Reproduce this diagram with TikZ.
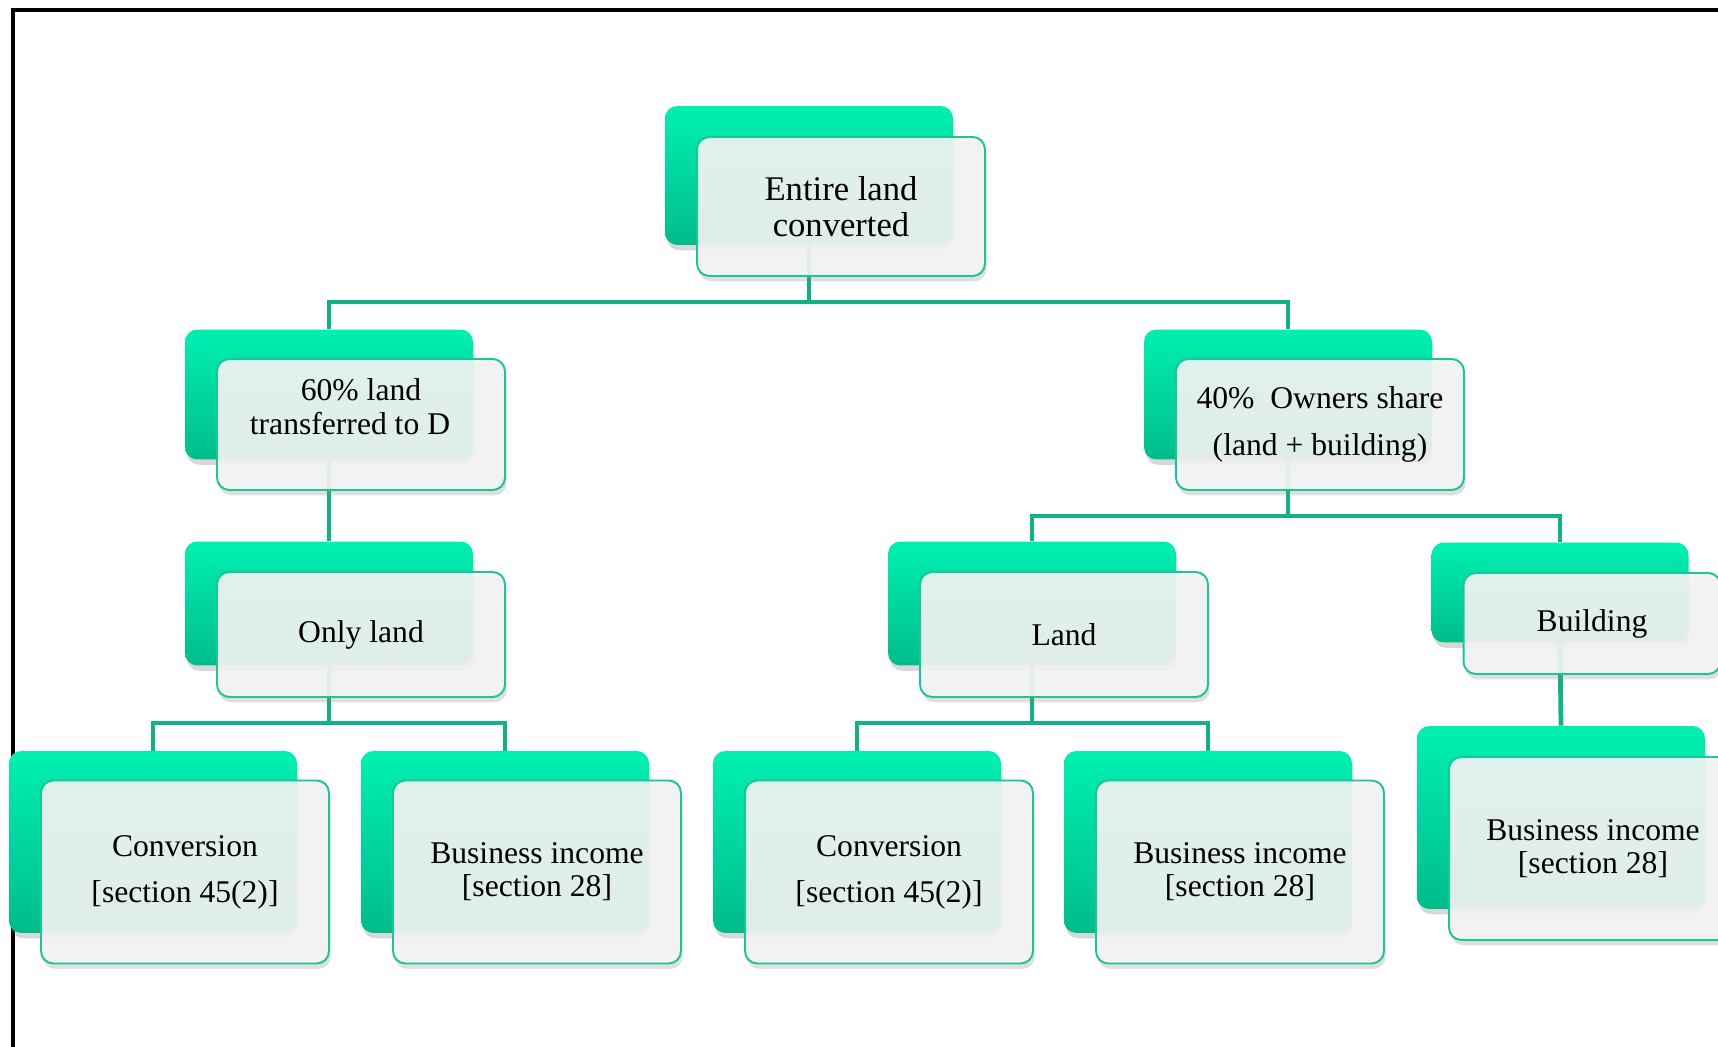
\documentclass[tikz,border=0pt]{standalone}
\usepackage{fontspec}
\setmainfont{Liberation Serif}
\usetikzlibrary{shadows}

\definecolor{mintTop}{RGB}{0,240,178}
\definecolor{mintBot}{RGB}{0,188,138}
\definecolor{mintLine}{RGB}{18,178,134}
\definecolor{mintEdge}{RGB}{28,196,150}
\definecolor{paneFill}{RGB}{245,245,245}

\begin{document}
\begin{tikzpicture}[x=0.02cm,y=-0.02cm,
  back/.style={rounded corners=7pt,top color=mintTop,bottom color=mintBot,draw=none,
    minimum width=5.76cm,drop shadow={shadow xshift=1pt,shadow yshift=-3pt,opacity=0.3}},
  pane/.style={rounded corners=7pt,draw=mintEdge,line width=1.1pt,fill=paneFill,
    fill opacity=0.9,text opacity=1,align=center,minimum width=5.76cm,
    font=\fontsize{18}{20.5}\selectfont,
    drop shadow={shadow xshift=1pt,shadow yshift=-3pt,opacity=0.25}},
  link/.style={mintLine,line width=2.7pt}]
\clip (0,0) rectangle (1718,1047);
\fill[white] (0,0) rectangle (1718,1047);
\draw[line width=2.8pt] (13,1047) -- (13,10) -- (1718,10);

% back tiles
\node[back,minimum height=2.78cm] (top) at (809,175.5) {};
\node[back,minimum height=2.6cm] (land60) at (329,394.5) {};
\node[back,minimum height=2.6cm] (owners) at (1288,394.5) {};
\node[back,minimum height=2.48cm] (only) at (329,603.5) {};
\node[back,minimum height=2.48cm] (land) at (1032,603.5) {};
\node[back,minimum height=2cm,minimum width=5.14cm] (bldg) at (1560,592.5) {};
\node[back,minimum height=3.64cm] (conv1) at (153,842) {};
\node[back,minimum height=3.64cm] (bus1) at (505,842) {};
\node[back,minimum height=3.64cm] (conv2) at (857,842) {};
\node[back,minimum height=3.64cm] (bus2) at (1208,842) {};
\node[back,minimum height=3.66cm] (bus3) at (1561,817.5) {};

% connectors
\coordinate (j1) at (809,302);
\coordinate (j2) at (1288,516);
\coordinate (j3) at (329,723);
\coordinate (j4) at (1032,723);
\draw[link] (top.south) -- (j1);
\draw[link] (land60.north) |- (j1) -| (owners.north);
\draw[link] (land60.south) -- (only.north);
\draw[link] (owners.south) -- (j2);
\draw[link] (land.north) |- (j2) -| (bldg.north);
\draw[link] (only.south) -- (j3);
\draw[link] (conv1.north) |- (j3) -| (bus1.north);
\draw[link] (land.south) -- (j4);
\draw[link] (conv2.north) |- (j4) -| (bus2.north);
\draw[link] (bldg.south) -- (bus3.north);

% front panes
\node[pane,minimum height=2.78cm,font=\fontsize{19.7}{20.5}\selectfont] (top-f) at ([shift={(32,31)}]top.center) {Entire land\\converted};
\node[pane,minimum height=2.62cm] (land60-f) at ([shift={(32,30)}]land60.center) {60\% land\\[-1pt]transferred to D\rule{0.44cm}{0pt}\\\mbox{}};
\node[pane,minimum height=2.62cm] (owners-f) at ([shift={(32,30)}]owners.center) {40\%\ \ Owners share\\[6pt](land + building)};
\node[pane,minimum height=2.5cm] (only-f) at ([shift={(32,31)}]only.center) {Only land};
\node[pane,minimum height=2.5cm] (land-f) at ([shift={(32,31)}]land.center) {Land};
\node[pane,minimum height=2.02cm,minimum width=5.14cm] (bldg-f) at ([shift={(32,31)}]bldg.center) {Building};
\node[pane,minimum height=3.66cm] (conv1-f) at ([shift={(32,30)}]conv1.center) {Conversion\\[5.6pt]{}[section 45(2)]};
\node[pane,minimum height=3.66cm] (bus1-f) at ([shift={(32,30)}]bus1.center) {Business income\\[-1.8pt]{}[section 28]};
\node[pane,minimum height=3.66cm] (conv2-f) at ([shift={(32,30)}]conv2.center) {Conversion\\[5.6pt]{}[section 45(2)]};
\node[pane,minimum height=3.66cm] (bus2-f) at ([shift={(32,30)}]bus2.center) {Business income\\[-1.8pt]{}[section 28]};
\node[pane,minimum height=3.66cm] (bus3-f) at ([shift={(32,31)}]bus3.center) {Business income\\[-1.8pt]{}[section 28]};
\end{tikzpicture}
\end{document}
